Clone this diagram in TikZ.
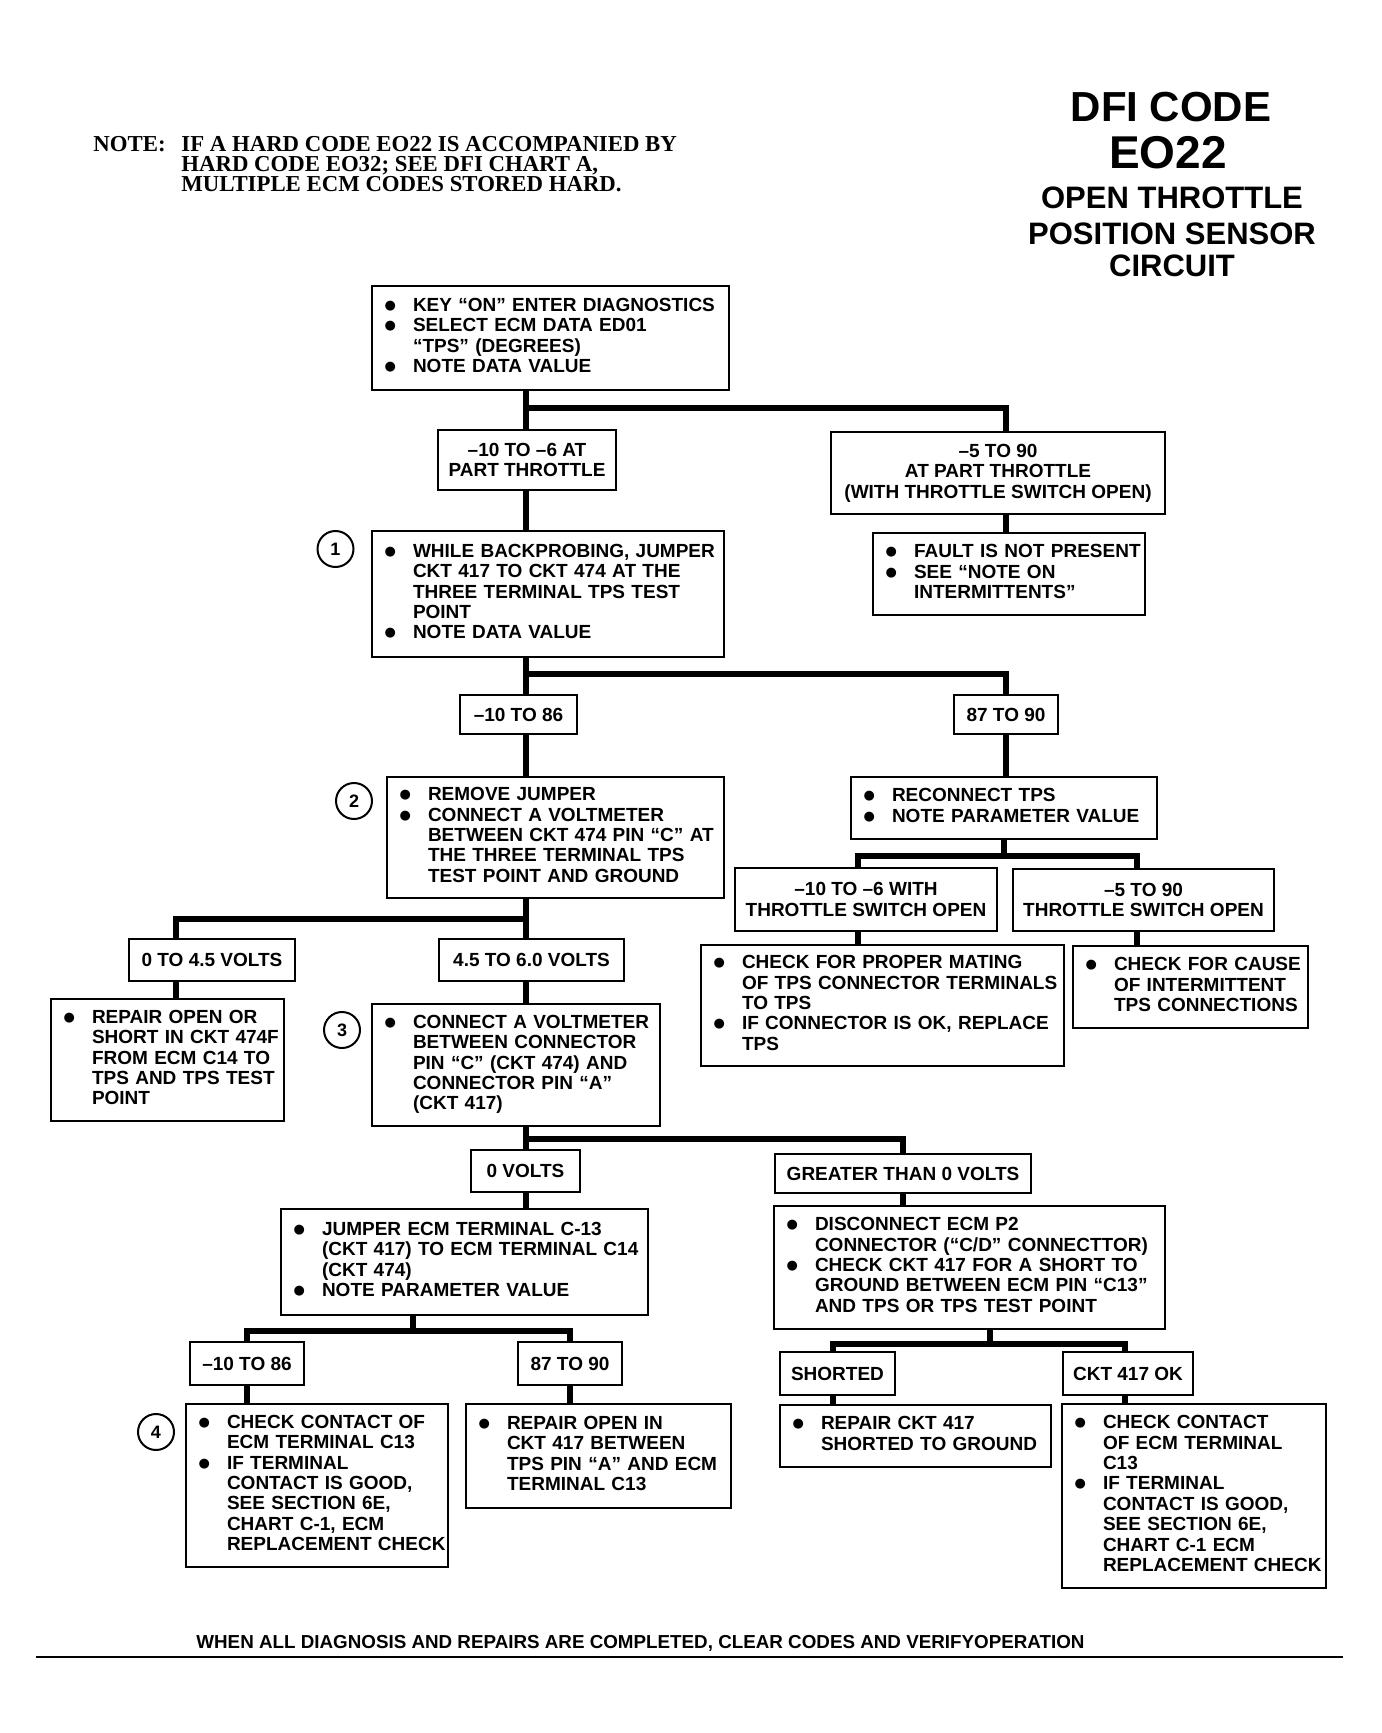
\documentclass[tikz,border=0pt]{standalone}
\usepackage{fontspec}
\setmainfont{Liberation Sans}
\newfontfamily\notefont{Liberation Serif}
\newfontfamily\dotfont{DejaVu Sans}
\newcommand\bul{\makebox[14.25pt][l]{\raisebox{1pt}{\dotfont\fontsize{6.5}{6}\selectfont ●}}}
\newcommand\blist[1]{\noindent\begin{tabular}{@{}l@{}l@{}}#1\end{tabular}}
\begin{document}
\begin{tikzpicture}[x=0.5pt,y=-0.5pt,
 box/.style={draw, line width=1.25pt, inner xsep=6.25pt, inner ysep=1pt, align=left, font=\bfseries\fontsize{9.5}{10.2}\selectfont},
 lbl/.style={draw, line width=1.25pt, inner sep=1pt, align=center, font=\bfseries\fontsize{9.5}{10.2}\selectfont},
 conn/.style={line width=3pt},
 num/.style={circle, draw, line width=1pt, minimum size=18pt, inner sep=0pt, font=\bfseries\fontsize{9}{9}\selectfont},
 ttl/.style={anchor=base, inner sep=0pt, font=\bfseries\fontsize{21}{21}\selectfont},
 sttl/.style={anchor=base, inner sep=0pt, font=\bfseries\fontsize{15.5}{15.5}\selectfont},
 notetxt/.style={anchor=base west, inner sep=0pt, font=\notefont\bfseries\fontsize{11.4}{11.4}\selectfont},
 foottxt/.style={anchor=base west, inner sep=0pt, font=\bfseries\fontsize{9.4}{9.4}\selectfont}]
\fill[white] (0,0) rectangle (1381,1733);
\useasboundingbox (0,0) rectangle (1381,1733);

% note and title
\node[notetxt] (noteh) at (93,152) {NOTE:};
\node[notetxt] (note1) at (181,152) {IF A HARD CODE EO22 IS ACCOMPANIED BY};
\node[notetxt] (note2) at (181,172) {HARD CODE EO32; SEE DFI CHART A,};
\node[notetxt] (note3) at (181,192) {MULTIPLE ECM CODES STORED HARD.};
\node[ttl] (t1) at (1171,122) {DFI CODE};
\node[ttl, font=\bfseries\fontsize{23}{23}\selectfont] (t2) at (1168,169) {EO22};
\node[sttl] (t3) at (1172,209) {OPEN THROTTLE};
\node[sttl] (t4) at (1172,245) {POSITION SENSOR};
\node[sttl] (t5) at (1172,277) {CIRCUIT};

% boxes
\node[box, text width=166pt, minimum height=52pt] (A) at (550.5,338) {\blist{%
\bul & KEY “ON” ENTER DIAGNOSTICS\\
\bul & SELECT ECM DATA ED01\\
 & “TPS” (DEGREES)\\
\bul & NOTE DATA VALUE}};
\node[lbl, minimum width=89pt, minimum height=30pt] (B1) at (527,460) {–10 TO –6 AT\\PART THROTTLE};
\node[lbl, minimum width=167pt, minimum height=41pt] (B2) at (998,473) {–5 TO 90\\AT PART THROTTLE\\(WITH THROTTLE SWITCH OPEN)};
\node[box, text width=163.5pt, minimum height=63pt] (C1) at (548,594) {\blist{%
\bul & WHILE BACKPROBING, JUMPER\\
 & CKT 417 TO CKT 474 AT THE\\
 & THREE TERMINAL TPS TEST\\
 & POINT\\
\bul & NOTE DATA VALUE}};
\node[box, text width=123.5pt, minimum height=41pt] (C2) at (1009,574) {\blist{%
\bul & FAULT IS NOT PRESENT\\
\bul & SEE “NOTE ON\\
 & INTERMITTENTS”}};
\node[lbl, minimum width=58.5pt, minimum height=19.5pt] (D1) at (518.5,714.5) {–10 TO 86};
\node[lbl, minimum width=52pt, minimum height=19.5pt] (D2) at (1006,714.5) {87 TO 90};
\node[box, text width=156pt, minimum height=60.5pt] (E1) at (555.5,837.5) {\blist{%
\bul & REMOVE JUMPER\\
\bul & CONNECT A VOLTMETER\\
 & BETWEEN CKT 474 PIN “C” AT\\
 & THE THREE TERMINAL TPS\\
 & TEST POINT AND GROUND}};
\node[box, text width=140.5pt, minimum height=31pt] (E2) at (1004,808) {\blist{%
\bul & RECONNECT TPS\\
\bul & NOTE PARAMETER VALUE}};
\node[lbl, minimum width=131pt, minimum height=31.5pt] (F1) at (866,899.5) {–10 TO –6 WITH\\THROTTLE SWITCH OPEN};
\node[lbl, minimum width=130.5pt, minimum height=31pt] (F2) at (1143.5,900) {–5 TO 90\\THROTTLE SWITCH OPEN};
\node[box, text width=169pt, minimum height=60.5pt] (G1) at (882.5,1005.5) {\blist{%
\bul & CHECK FOR PROPER MATING\\
 & OF TPS CONNECTOR TERMINALS\\
 & TO TPS\\
\bul & IF CONNECTOR IS OK, REPLACE\\
 & TPS}};
\node[box, text width=105pt, minimum height=41pt] (G2) at (1190.5,987) {\blist{%
\bul & CHECK FOR CAUSE\\
 & OF INTERMITTENT\\
 & TPS CONNECTIONS}};
\node[lbl, minimum width=83pt, minimum height=21pt] (H1) at (212,960) {0 TO 4.5 VOLTS};
\node[lbl, minimum width=92.5pt, minimum height=21pt] (H2) at (531.5,960) {4.5 TO 6.0 VOLTS};
\node[box, text width=104pt, minimum height=61pt] (I1) at (167.5,1060) {\blist{%
\bul & REPAIR OPEN OR\\
 & SHORT IN CKT 474F\\
 & FROM ECM C14 TO\\
 & TPS AND TPS TEST\\
 & POINT}};
\node[box, text width=131.5pt, minimum height=61pt] (I2) at (516,1065) {\blist{%
\bul & CONNECT A VOLTMETER\\
 & BETWEEN CONNECTOR\\
 & PIN “C” (CKT 474) AND\\
 & CONNECTOR PIN “A”\\
 & (CKT 417)}};
\node[lbl, minimum width=54.5pt, minimum height=21pt] (J1) at (525.5,1171) {0 VOLTS};
\node[lbl, minimum width=128pt, minimum height=19.5pt] (J2) at (903,1173.5) {GREATER THAN 0 VOLTS};
\node[box, text width=171pt, minimum height=53pt] (K1) at (464.5,1262) {\blist{%
\bul & JUMPER ECM TERMINAL C-13\\
 & (CKT 417) TO ECM TERMINAL C14\\
 & (CKT 474)\\
\bul & NOTE PARAMETER VALUE}};
\node[box, text width=183pt, minimum height=61.5pt] (K2) at (969.5,1267.5) {\blist{%
\bul & DISCONNECT ECM P2\\
 & CONNECTOR (“C/D” CONNECTTOR)\\
\bul & CHECK CKT 417 FOR A SHORT TO\\
 & GROUND BETWEEN ECM PIN “C13”\\
 & AND TPS OR TPS TEST POINT}};
\node[lbl, minimum width=57pt, minimum height=21.5pt] (L1) at (247,1363.5) {–10 TO 86};
\node[lbl, minimum width=52pt, minimum height=21.5pt] (L2) at (570,1363.5) {87 TO 90};
\node[lbl, minimum width=57.5pt, minimum height=21.5pt] (N1) at (837.5,1373.5) {SHORTED};
\node[lbl, minimum width=65pt, minimum height=21.5pt] (N2) at (1128,1373.5) {CKT 417 OK};
\node[box, text width=118.5pt, minimum height=81.5pt] (M1) at (317,1485.5) {\blist{%
\bul & CHECK CONTACT OF\\
 & ECM TERMINAL C13\\
\bul & IF TERMINAL\\
 & CONTACT IS GOOD,\\
 & SEE SECTION 6E,\\
 & CHART C-1, ECM\\
 & REPLACEMENT CHECK}};
\node[box, text width=120pt, minimum height=52pt] (M2) at (598.5,1456) {\blist{%
\bul & REPAIR OPEN IN\\
 & CKT 417 BETWEEN\\
 & TPS PIN “A” AND ECM\\
 & TERMINAL C13}};
\node[box, text width=123pt, minimum height=31pt] (O1) at (915.5,1436) {\blist{%
\bul & REPAIR CKT 417\\
 & SHORTED TO GROUND}};
\node[box, text width=119.5pt, minimum height=92pt] (O2) at (1194,1496) {\blist{%
\bul & CHECK CONTACT\\
 & OF ECM TERMINAL\\
 & C13\\
\bul & IF TERMINAL\\
 & CONTACT IS GOOD,\\
 & SEE SECTION 6E,\\
 & CHART C-1 ECM\\
 & REPLACEMENT CHECK}};

% step numbers
\node[num] (n1) at (335.5,549) {1};
\node[num] (n2) at (354,801) {2};
\node[num] (n3) at (342,1030) {3};
\node[num] (n4) at (156,1432) {4};

% junction coordinates
\coordinate (cA) at (526,408);
\coordinate (cB) at (1006,408);
\coordinate (cC) at (526,674);
\coordinate (cE2) at (1004,856);
\coordinate (cF1) at (858,856);
\coordinate (cF2) at (1137,856);
\coordinate (cE1) at (526,919);
\coordinate (cH1) at (176,919);
\coordinate (cI) at (526,1139);
\coordinate (cJ2) at (903,1139);
\coordinate (cK1) at (413,1331);
\coordinate (cL1) at (247,1331);
\coordinate (cL2) at (570,1331);
\coordinate (cK2) at (990,1344);
\coordinate (cN1) at (833,1344);
\coordinate (cN2) at (1125,1344);

% connectors
\draw[conn] (A.south -| cA) -- (B1.north -| cA);
\draw[conn] (cA) -| (B2.north -| cB);
\draw[conn] (B1.south -| cA) -- (C1.north -| cA);
\draw[conn] (B2.south -| cB) -- (C2.north -| cB);
\draw[conn] (C1.south -| cC) -- (D1.north -| cC);
\draw[conn] (cC) -| (D2.north -| cB);
\draw[conn] (D1.south -| cC) -- (E1.north -| cC);
\draw[conn] (D2.south -| cB) -- (E2.north -| cB);
\draw[conn] (E2.south -| cE2) -- (cE2);
\draw[conn] (F1.north -| cF1) |- (cF2) -- (F2.north -| cF2);
\draw[conn] (F1.south -| cF1) -- (G1.north -| cF1);
\draw[conn] (F2.south -| cF2) -- (G2.north -| cF2);
\draw[conn] (E1.south -| cE1) -- (H2.north -| cE1);
\draw[conn] (cE1) -- (cH1) -- (H1.north -| cH1);
\draw[conn] (H1.south -| cH1) -- (I1.north -| cH1);
\draw[conn] (H2.south -| cE1) -- (I2.north -| cE1);
\draw[conn] (I2.south -| cI) -- (J1.north -| cI);
\draw[conn] (cI) -- (cJ2) -- (J2.north -| cJ2);
\draw[conn] (J1.south -| cI) -- (K1.north -| cI);
\draw[conn] (J2.south -| cJ2) -- (K2.north -| cJ2);
\draw[conn] (K1.south -| cK1) -- (cK1);
\draw[conn] (L1.north -| cL1) |- (cL2) -- (L2.north -| cL2);
\draw[conn] (L1.south -| cL1) -- (M1.north -| cL1);
\draw[conn] (L2.south -| cL2) -- (M2.north -| cL2);
\draw[conn] (K2.south -| cK2) -- (cK2);
\draw[conn] (N1.north -| cN1) |- (cN2) -- (N2.north -| cN2);
\draw[conn] (N1.south -| cN1) -- (O1.north -| cN1);
\draw[conn] (N2.south -| cN2) -- (O2.north -| cN2);

% footer
\node[foottxt] (foot) at (196,1648) {WHEN ALL DIAGNOSIS AND REPAIRS ARE COMPLETED, CLEAR CODES AND VERIFYOPERATION};
\draw[line width=0.8pt] (36,1657) -- (1343,1657);
\end{tikzpicture}
\end{document}
